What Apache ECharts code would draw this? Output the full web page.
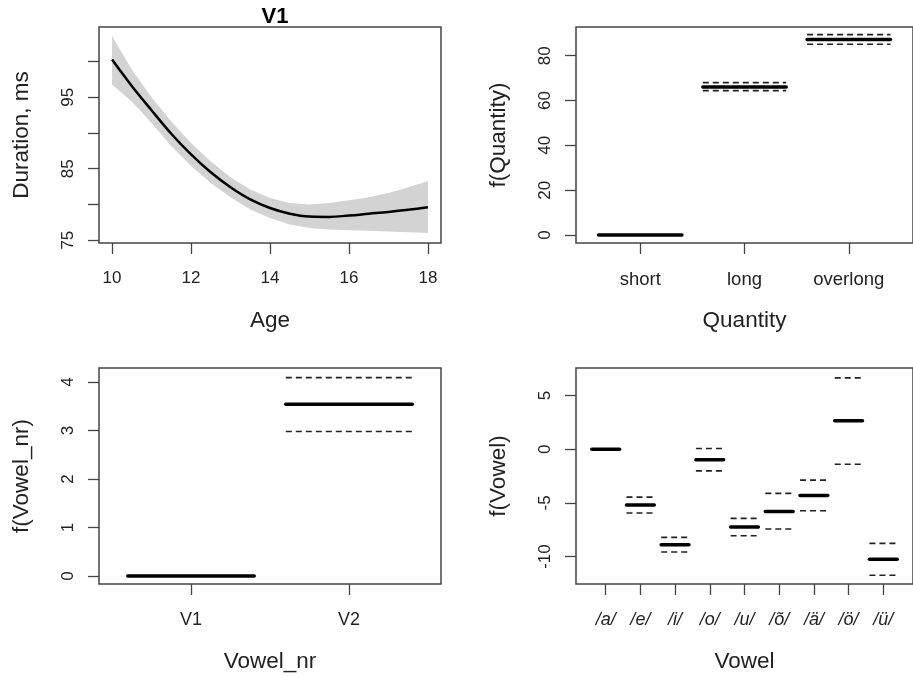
<!DOCTYPE html>
<html>
<head>
<meta charset="utf-8">
<script src="https://cdn.jsdelivr.net/npm/echarts@6/dist/echarts.min.js"></script>
<style>
  html, body { margin: 0; padding: 0; background: #fff; }
  #main { width: 913px; height: 677px; }
</style>
</head>
<body>
<div id="main"></div>
<script>
// smooth term for Age (V1)
const ages = [10, 10.5, 11, 11.5, 12, 12.5, 13, 13.5, 14, 14.5, 15, 15.5, 16, 16.5, 17, 17.5, 18];
const ageFit = [100.3, 96.6, 93.2, 89.9, 87.0, 84.5, 82.4, 80.7, 79.5, 78.7, 78.3, 78.25, 78.45, 78.7, 78.95, 79.25, 79.6];
const ageUpper = [103.6, 98.9, 95.0, 91.6, 88.6, 86.0, 83.8, 82.1, 80.9, 80.2, 80.0, 80.2, 80.6, 81.0, 81.6, 82.4, 83.3];
const ageLower = [96.8, 94.4, 91.4, 88.2, 85.4, 83.0, 81.0, 79.3, 78.1, 77.2, 76.7, 76.5, 76.4, 76.3, 76.2, 76.1, 76.0];
const ageTicks = [10, 12, 14, 16, 18];
const durTicks = [75, 80, 85, 90, 95, 100];
const durLabels = [75, 85, 95];

// Quantity
const quantityCats = ['short', 'long', 'overlong'];
const quantityFit = [0, 66.0, 87.2];
const quantityLo = [null, 64.4, 85.1];
const quantityHi = [null, 68.0, 89.4];
const quantityTicks = [0, 20, 40, 60, 80];

// Vowel_nr
const vowelNrCats = ['V1', 'V2'];
const vowelNrFit = [0, 3.54];
const vowelNrLo = [null, 2.98];
const vowelNrHi = [null, 4.09];
const vowelNrTicks = [0, 1, 2, 3, 4];

// Vowel
const vowelCats = ['/a/', '/e/', '/i/', '/o/', '/u/', '/õ/', '/ä/', '/ö/', '/ü/'];
const vowelFit = [0, -5.21, -8.90, -0.99, -7.26, -5.80, -4.31, 2.64, -10.26];
const vowelLo = [null, -5.95, -9.58, -2.02, -8.06, -7.44, -5.74, -1.40, -11.75];
const vowelHi = [null, -4.47, -8.22, 0.06, -6.45, -4.12, -2.88, 6.64, -8.78];
const vowelTicks = [-10, -5, 0, 5];

const FONT = 'Liberation Sans, Arial, sans-serif';
const INK = '#222';
const FRAME = '#444';

function idx(arr) { return arr.map((_, i) => i + 1); }

function rows(fit, lo, hi) {
  return fit.map((v, i) => [i + 1, v, lo[i] == null ? '-' : lo[i], hi[i] == null ? '-' : hi[i]]);
}

// one term level: thick fitted segment plus dashed +-2se segments
function segRender(params, api) {
  const x = api.value(0);
  const half = 0.4;
  const children = [];
  const seg = (v, style) => {
    const a = api.coord([x - half, v]);
    const b = api.coord([x + half, v]);
    return { type: 'line', shape: { x1: a[0], y1: a[1], x2: b[0], y2: b[1] }, style: style };
  };
  [2, 3].forEach(d => {
    const v = api.value(d);
    if (!isNaN(v)) {
      children.push(seg(v, { stroke: '#222', lineWidth: 1.6, lineDash: [6, 4] }));
    }
  });
  children.push(seg(api.value(1), { stroke: '#000', lineWidth: 3.5, lineCap: 'round' }));
  return { type: 'group', children: children };
}

// confidence band of the smooth
function bandRender(params, api) {
  const pts = [];
  ages.forEach((a, i) => pts.push(api.coord([a, ageUpper[i]])));
  for (let i = ages.length - 1; i >= 0; i--) pts.push(api.coord([ages[i], ageLower[i]]));
  return { type: 'polygon', shape: { points: pts }, style: { fill: '#d3d3d3', stroke: null } };
}

function xAxis(grid, min, max, ticks, fmt, name, size, italic) {
  return {
    type: 'value', gridIndex: grid, min: min, max: max,
    name: name, nameLocation: 'middle', nameGap: 66,
    nameTextStyle: { fontFamily: FONT, fontSize: 22.5, color: INK },
    axisLine: { show: false, onZero: false },
    splitLine: { show: false },
    axisTick: { show: true, length: 11, customValues: ticks, lineStyle: { color: FRAME, width: 1.3 } },
    axisLabel: {
      customValues: ticks, margin: 27, fontFamily: FONT, fontSize: size, color: INK,
      fontStyle: italic ? 'italic' : 'normal',
      formatter: fmt
    }
  };
}

function yAxis(grid, min, max, ticks, labels, name) {
  return {
    type: 'value', gridIndex: grid, min: min, max: max,
    name: name, nameLocation: 'middle', nameGap: 66,
    nameTextStyle: { fontFamily: FONT, fontSize: 22.5, color: INK },
    axisLine: { show: false, onZero: false },
    splitLine: { show: false },
    axisTick: { show: true, length: 11, customValues: ticks, lineStyle: { color: FRAME, width: 1.3 } },
    axisLabel: {
      customValues: labels, rotate: 90, margin: 22, fontFamily: FONT, fontSize: 17, color: INK
    }
  };
}

const gridBase = { show: true, borderColor: FRAME, borderWidth: 1.5, backgroundColor: 'transparent' };

const option = {
  animation: false,
  backgroundColor: '#fff',
  title: {
    text: 'V1', left: 270, top: 1, textAlign: 'center',
    textStyle: { fontFamily: FONT, fontSize: 22, fontWeight: 'bold', color: '#000' }
  },
  grid: [
    Object.assign({ left: 99, top: 27, width: 342, height: 216 }, gridBase),
    Object.assign({ left: 576, top: 27, width: 341, height: 216 }, gridBase),
    Object.assign({ left: 99, top: 368, width: 342, height: 216 }, gridBase),
    Object.assign({ left: 576, top: 368, width: 341, height: 216 }, gridBase)
  ],
  xAxis: [
    xAxis(0, 9.67, 18.33, ageTicks, v => String(v), 'Age', 17),
    xAxis(1, 0.384, 3.616, idx(quantityCats), v => quantityCats[Math.round(v) - 1], 'Quantity', 18.5),
    xAxis(2, 0.418, 2.582, idx(vowelNrCats), v => vowelNrCats[Math.round(v) - 1], 'Vowel_nr', 18),
    xAxis(3, 0.145, 9.855, idx(vowelCats), v => vowelCats[Math.round(v) - 1], 'Vowel', 18, true)
  ],
  yAxis: [
    yAxis(0, 74.6, 104.85, durTicks, durLabels, 'Duration, ms'),
    yAxis(1, -3.57, 92.8, quantityTicks, quantityTicks, 'f(Quantity)'),
    yAxis(2, -0.165, 4.288, vowelNrTicks, vowelNrTicks, 'f(Vowel_nr)'),
    yAxis(3, -12.56, 7.56, vowelTicks, vowelTicks, 'f(Vowel)')
  ],
  series: [
    {
      type: 'custom', xAxisIndex: 0, yAxisIndex: 0, renderItem: bandRender,
      data: [[ages[0], ageFit[0]]], silent: true
    },
    {
      type: 'line', xAxisIndex: 0, yAxisIndex: 0, smooth: 0.4, z: 5,
      symbol: 'none', lineStyle: { color: '#000', width: 2.5 },
      data: ages.map((a, i) => [a, ageFit[i]])
    },
    {
      type: 'custom', xAxisIndex: 1, yAxisIndex: 1, renderItem: segRender,
      encode: { x: 0, y: [1, 2, 3] },
      data: rows(quantityFit, quantityLo, quantityHi)
    },
    {
      type: 'custom', xAxisIndex: 2, yAxisIndex: 2, renderItem: segRender,
      encode: { x: 0, y: [1, 2, 3] },
      data: rows(vowelNrFit, vowelNrLo, vowelNrHi)
    },
    {
      type: 'custom', xAxisIndex: 3, yAxisIndex: 3, renderItem: segRender,
      encode: { x: 0, y: [1, 2, 3] },
      data: rows(vowelFit, vowelLo, vowelHi)
    }
  ]
};

const chart = echarts.init(document.getElementById('main'));
chart.setOption(option);
</script>
</body>
</html>
